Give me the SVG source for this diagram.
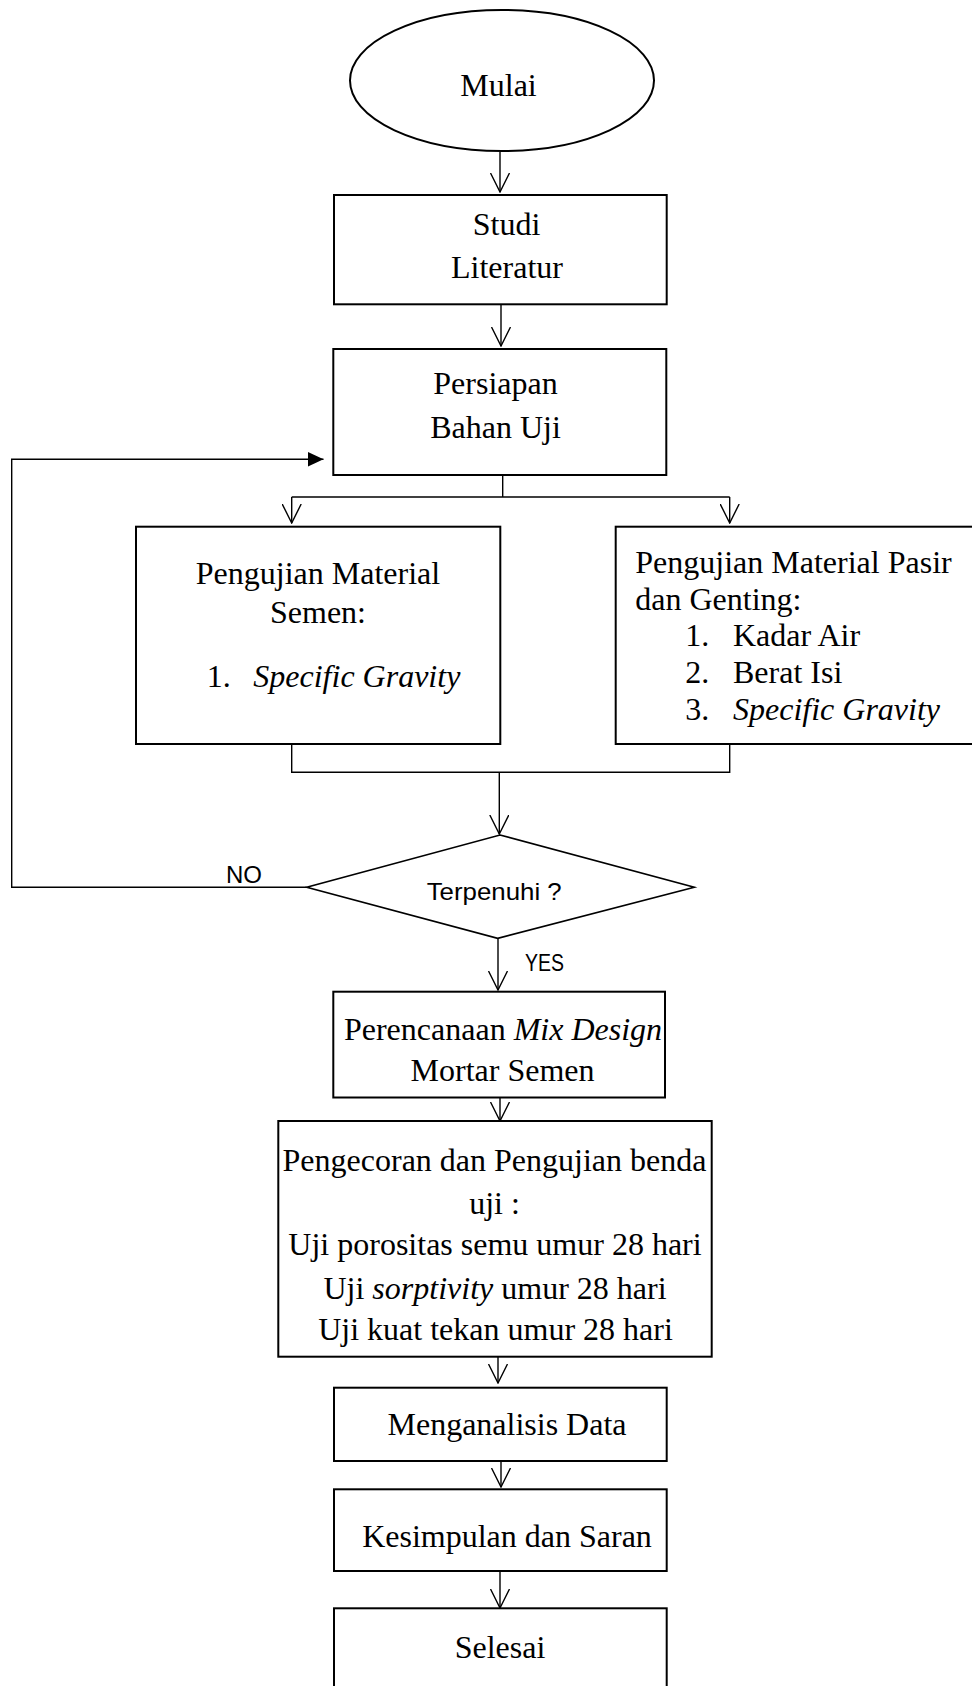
<svg xmlns="http://www.w3.org/2000/svg" width="972" height="1686" viewBox="0 0 972 1686">
<style>
.box{fill:#fff;stroke:#000;stroke-width:2}
.dia{fill:#fff;stroke:#000;stroke-width:1.6}
.con{fill:none;stroke:#000;stroke-width:1.4}
.t{font-family:"Liberation Serif","Times New Roman",serif;font-size:32px;fill:#000}
.m{text-anchor:middle}
.i{font-style:italic}
.s{font-family:"Liberation Sans",Arial,sans-serif;font-size:24px;fill:#000}
</style>
<defs>
<marker id="open" viewBox="0 0 20 20" refX="19.5" refY="10" markerWidth="20" markerHeight="20" markerUnits="userSpaceOnUse" orient="auto">
<path d="M0.5,0.5 L19.5,10 L0.5,19.5" fill="none" stroke="#000" stroke-width="1.4"/>
</marker>
<marker id="solid" viewBox="0 0 16 16" refX="16" refY="8" markerWidth="16" markerHeight="16" markerUnits="userSpaceOnUse" orient="auto">
<path d="M0,0.5 L16,8 L0,15.5 Z" fill="#000"/>
</marker>
</defs>
<rect width="972" height="1686" fill="#fff"/>

<g id="connectors">
<path class="con" d="M500,152 V192" marker-end="url(#open)"/>
<path class="con" d="M501,305 V346" marker-end="url(#open)"/>
<path class="con" d="M502.7,476 V497"/>
<path class="con" d="M291.7,497 H729.7"/>
<path class="con" d="M291.7,497 V523" marker-end="url(#open)"/>
<path class="con" d="M729.7,497 V523" marker-end="url(#open)"/>
<path class="con" d="M291.7,745 V772.3 H729.7 V745"/>
<path class="con" d="M499.3,772.3 V834" marker-end="url(#open)"/>
<path class="con" d="M498,938.3 V990" marker-end="url(#open)"/>
<path class="con" d="M500,1097.5 V1121" marker-end="url(#open)"/>
<path class="con" d="M498,1357 V1383" marker-end="url(#open)"/>
<path class="con" d="M501,1458 V1487" marker-end="url(#open)"/>
<path class="con" d="M500,1571 V1608" marker-end="url(#open)"/>
<path class="con" d="M306.7,887.3 H11.7 V459.3 H323.5" marker-end="url(#solid)"/>
<text class="s" x="226" y="883.3" textLength="36" lengthAdjust="spacingAndGlyphs">NO</text>
<text class="s" x="525" y="971" textLength="39" lengthAdjust="spacingAndGlyphs">YES</text>
</g>

<g id="mulai">
<ellipse class="box" cx="502" cy="80.5" rx="152" ry="70.5"/>
<text class="t m" x="498.5" y="96">Mulai</text>
</g>

<g id="studi">
<rect class="box" x="334" y="195" width="332.7" height="109.3"/>
<text class="t m" x="506.5" y="235">Studi</text>
<text class="t m" x="507" y="277.5">Literatur</text>
</g>

<g id="persiapan">
<rect class="box" x="333.3" y="349" width="333" height="126"/>
<text class="t m" x="495.5" y="393.5">Persiapan</text>
<text class="t m" x="495.5" y="438">Bahan Uji</text>
</g>

<g id="semen">
<rect class="box" x="136" y="526.7" width="364.3" height="217.3"/>
<text class="t m" x="318" y="584">Pengujian Material</text>
<text class="t m" x="318" y="622.5">Semen:</text>
<text class="t" x="206.7" y="686.5">1.</text>
<text class="t i" x="253.3" y="686.5">Specific Gravity</text>
</g>

<g id="pasir">
<rect class="box" x="615.7" y="526.7" width="362" height="217.3"/>
<text class="t" x="635.3" y="573">Pengujian Material Pasir</text>
<text class="t" x="635.3" y="609.7">dan Genting:</text>
<text class="t" x="685.3" y="646.3">1.</text>
<text class="t" x="733" y="646.3">Kadar Air</text>
<text class="t" x="685.3" y="683.3">2.</text>
<text class="t" x="733" y="683.3">Berat Isi</text>
<text class="t" x="685.3" y="720.3">3.</text>
<text class="t i" x="733" y="720.3">Specific Gravity</text>
</g>

<g id="terpenuhi">
<polygon class="dia" points="500,835 694.3,887.3 497.7,938.3 306.7,887.3"/>
<text class="s" x="426.7" y="900" textLength="135" lengthAdjust="spacingAndGlyphs">Terpenuhi ?</text>
</g>

<g id="mixdesign">
<rect class="box" x="333.3" y="991.7" width="331.7" height="105.8"/>
<text class="t m" x="503" y="1039.5">Perencanaan <tspan class="i">Mix Design</tspan></text>
<text class="t m" x="502.6" y="1081">Mortar Semen</text>
</g>

<g id="pengecoran">
<rect class="box" x="278.3" y="1121" width="433.4" height="235.7"/>
<text class="t m" x="494.5" y="1170.5">Pengecoran dan Pengujian benda</text>
<text class="t m" x="494.5" y="1213.5">uji :</text>
<text class="t m" x="495" y="1255">Uji porositas semu umur 28 hari</text>
<text class="t m" x="495" y="1299">Uji <tspan class="i">sorptivity</tspan> umur 28 hari</text>
<text class="t m" x="495.5" y="1339.5">Uji kuat tekan umur 28 hari</text>
</g>

<g id="menganalisis">
<rect class="box" x="334" y="1387.7" width="332.7" height="73.3"/>
<text class="t m" x="507" y="1435">Menganalisis Data</text>
</g>

<g id="kesimpulan">
<rect class="box" x="334" y="1489.3" width="332.7" height="81.7"/>
<text class="t m" x="507" y="1547.3">Kesimpulan dan Saran</text>
</g>

<g id="selesai">
<rect class="box" x="334" y="1608.3" width="332.7" height="100"/>
<text class="t m" x="500" y="1658.3">Selesai</text>
</g>
</svg>
